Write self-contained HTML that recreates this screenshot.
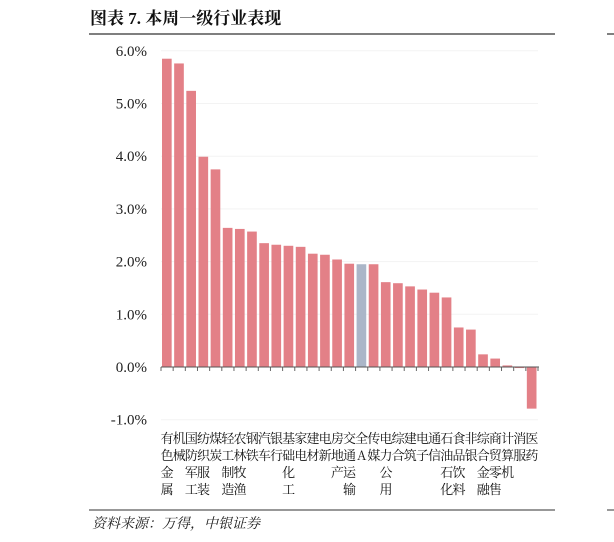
<!DOCTYPE html>
<html><head><meta charset="utf-8"><style>
body{margin:0;background:#fff;}
svg{display:block;}
</style></head><body>
<svg id="chart" width="614" height="542" xmlns="http://www.w3.org/2000/svg">
<text x="90" y="24" font-family="'Liberation Serif','Noto Serif CJK SC',serif" font-size="17" font-weight="bold" fill="#111">图表 7. 本周一级行业表现</text>
<line x1="89" y1="34" x2="555" y2="34" stroke="#555" stroke-width="1.5"/>
<line x1="89" y1="510" x2="555" y2="510" stroke="#777" stroke-width="1.5"/>
<line x1="607" y1="34" x2="614" y2="34" stroke="#555" stroke-width="1.5"/>
<line x1="607" y1="510" x2="614" y2="510" stroke="#777" stroke-width="1.5"/>
<text x="92" y="528" font-family="'Noto Serif CJK SC',serif" font-size="14" font-style="italic" fill="#222">资料来源：万得，中银证券</text>
<g id="grid"></g><g id="bars"></g><g id="axis"></g><g id="labels"></g>
</svg>
<script>
const categories=["有色金属","机械","国防军工","纺织服装","煤炭","轻工制造","农林牧渔","钢铁","汽车","银行","基础化工","家电","建材","电新","房地产","交通运输","全A","传媒","电力公用","综合","建筑","电子","通信","石油石化","食品饮料","非银","综合金融","商贸零售","计算机","消服","医药"];
const values=[5.85,5.76,5.24,3.99,3.75,2.64,2.62,2.57,2.35,2.32,2.30,2.28,2.15,2.13,2.04,1.96,1.95,1.95,1.61,1.59,1.53,1.47,1.41,1.32,0.75,0.71,0.24,0.16,0.03,-0.02,-0.79];
const highlight=[16];
const ticks=[6,5,4,3,2,1,0,-1];
const NS="http://www.w3.org/2000/svg";
const x0=161,x1=538,band=(x1-x0)/categories.length;
const y=v=>367-v*52.7;
function mk(t,a,p){const e=document.createElementNS(NS,t);for(const k in a)e.setAttribute(k,a[k]);p.appendChild(e);return e;}
const G=document.getElementById('grid'),B=document.getElementById('bars'),A=document.getElementById('axis'),L=document.getElementById('labels');
ticks.forEach(t=>{
  if(t!==0){const g=mk('line',{x1:x0,x2:538,y1:y(t),y2:y(t),stroke:'#f3f3f3'},G);
  
  }
  const tx=mk('text',{x:147,y:y(t)+5,'text-anchor':'end','font-family':'Liberation Serif,serif','font-size':15,fill:'#222'},A);
  tx.textContent=t.toFixed(1)+'%';
  
  
});
values.forEach((v,i)=>{
  const bx=x0+i*band+1,h=Math.abs(y(v)-y(0));
  const r=mk('rect',{x:bx,y:Math.min(y(v),y(0)),width:band-2.5,height:Math.max(h,0.8),fill:highlight.includes(i)?'#abb6c8':'#e38087'},B);
  
  
  const tk=mk('line',{x1:x0+i*band,x2:x0+i*band,y1:367,y2:371,stroke:'#666'},A);
  
  
  [...categories[i]].forEach((c,j)=>{
    const t=mk('text',{x:x0+i*band+band/2,y:443+j*17,'text-anchor':'middle','font-family':'Noto Serif CJK SC,serif','font-size':13,fill:'#111'},L);
    t.textContent=c;
    
    
  });
});
const ax=mk('line',{x1:x0,x2:x1+1,y1:367,y2:367,stroke:'#555'},A);


const tl=mk('line',{x1:x1,x2:x1,y1:367,y2:371,stroke:'#666'},A);


</script>
</body></html>
